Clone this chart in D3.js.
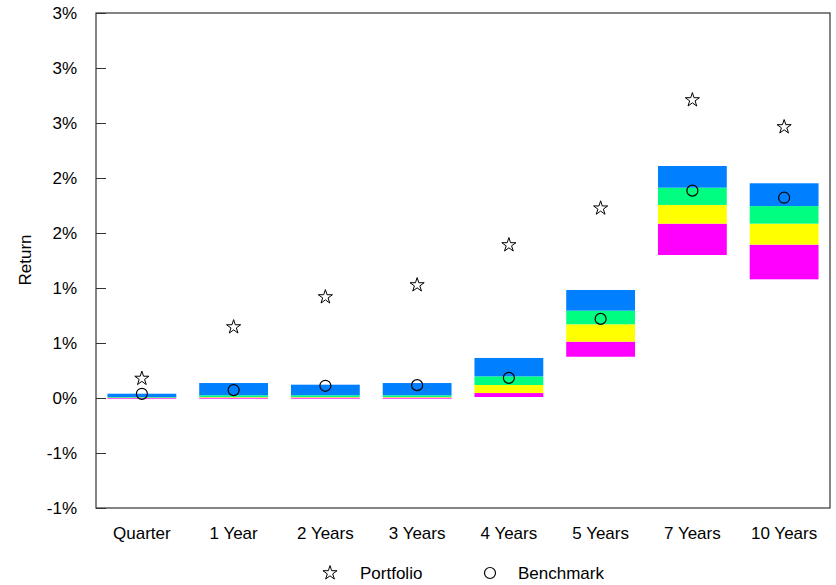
<!DOCTYPE html>
<html>
<head>
<meta charset="utf-8">
<script src="https://cdn.jsdelivr.net/npm/d3@7"></script>
<style>
  html, body { margin: 0; padding: 0; background: #fff; }
  svg { display: block; font-family: "Liberation Sans", Arial, sans-serif; }
</style>
</head>
<body>
<svg id="chart" width="836" height="585"></svg>
<script>
const categories = ["Quarter", "1 Year", "2 Years", "3 Years", "4 Years", "5 Years", "7 Years", "10 Years"];
// percentile bands (in %), bottom to top
const p05 = [-0.006, -0.006, -0.006, -0.006, 0.009, 0.375, 1.300, 1.079];
const p25 = [0.002, 0.004, 0.004, 0.004, 0.045, 0.512, 1.585, 1.394];
const p50 = [0.005, 0.009, 0.009, 0.009, 0.118, 0.670, 1.755, 1.585];
const p75 = [0.008, 0.025, 0.025, 0.025, 0.197, 0.794, 1.912, 1.745];
const p95 = [0.039, 0.136, 0.121, 0.136, 0.364, 0.982, 2.109, 1.952];
const portfolio = [0.177, 0.645, 0.918, 1.027, 1.391, 1.725, 2.709, 2.464];
const benchmark = [0.038, 0.072, 0.111, 0.117, 0.183, 0.719, 1.885, 1.821];
const yTickValues = [-1, -0.5, 0, 0.5, 1, 1.5, 2, 2.5, 3, 3.5];
const yTickLabels = ["-1%", "-1%", "0%", "1%", "1%", "2%", "2%", "3%", "3%", "3%"];
const bandColors = ["#ff00ff", "#ffff00", "#00ff80", "#0080ff"];

const svg = d3.select("#chart");
const margin = {left: 96, right: 6, top: 13, bottom: 77};
const W = 836, H = 585;
const x = d3.scaleBand().domain(categories).range([margin.left, W - margin.right]).paddingInner(0.25).paddingOuter(0.125);
const y = d3.scaleLinear().domain([-1, 3.5]).range([H - margin.bottom, margin.top]);

// bars
const bounds = [p05, p25, p50, p75, p95];
categories.forEach((c, i) => {
  for (let b = 0; b < 4; b++) {
    const lo = bounds[b][i], hi = bounds[b + 1][i];
    svg.append("rect")
      .attr("x", x(c))
      .attr("width", x.bandwidth())
      .attr("y", y(hi))
      .attr("height", Math.max(0.5, y(lo) - y(hi)))
      .attr("fill", bandColors[b]);
  }
});

// frame
svg.append("rect")
  .attr("x", margin.left).attr("y", margin.top)
  .attr("width", W - margin.right - margin.left)
  .attr("height", H - margin.bottom - margin.top)
  .attr("fill", "none").attr("stroke", "#333").attr("stroke-width", 1.2);

// y axis
const yAxis = d3.axisRight(y).tickValues(yTickValues).tickSize(10)
  .tickFormat((d, i) => yTickLabels[i]);
const ya = svg.append("g").attr("transform", `translate(${margin.left},0)`).call(yAxis);
ya.select(".domain").remove();
ya.selectAll(".tick line").attr("stroke", "#333");
ya.selectAll(".tick text").attr("x", -19).attr("text-anchor", "end")
  .attr("font-size", 17).attr("fill", "#000").attr("font-family", "Liberation Sans, Arial, sans-serif");

// x axis labels
const xAxis = d3.axisBottom(x).tickSize(0).tickPadding(19);
const xa = svg.append("g").attr("transform", `translate(0,${H - margin.bottom})`).call(xAxis);
xa.select(".domain").remove();
xa.selectAll(".tick text").attr("font-size", 17).attr("fill", "#000")
  .attr("font-family", "Liberation Sans, Arial, sans-serif");

// y title
svg.append("text").attr("transform", `translate(31,260) rotate(-90)`)
  .attr("text-anchor", "middle").attr("font-size", 17).text("Return");

// markers
const star = d3.symbol().type(d3.symbolStar).size(62);
svg.selectAll(".pf").data(portfolio).join("path")
  .attr("d", star)
  .attr("transform", (d, i) => `translate(${x(categories[i]) + x.bandwidth() / 2},${y(d)})`)
  .attr("fill", "#fff").attr("stroke", "#000").attr("stroke-width", 1);
svg.selectAll(".bm").data(benchmark).join("circle")
  .attr("cx", (d, i) => x(categories[i]) + x.bandwidth() / 2)
  .attr("cy", d => y(d)).attr("r", 5.5)
  .attr("fill", "none").attr("stroke", "#000").attr("stroke-width", 1.2);

// legend
const lg = svg.append("g");
lg.append("path").attr("d", star).attr("transform", "translate(330,573)")
  .attr("fill", "#fff").attr("stroke", "#000");
lg.append("text").attr("x", 360).attr("y", 579).attr("font-size", 17).text("Portfolio");
lg.append("circle").attr("cx", 490).attr("cy", 573).attr("r", 5.5)
  .attr("fill", "none").attr("stroke", "#000").attr("stroke-width", 1.2);
lg.append("text").attr("x", 518).attr("y", 579).attr("font-size", 17).text("Benchmark");
</script>
</body>
</html>
